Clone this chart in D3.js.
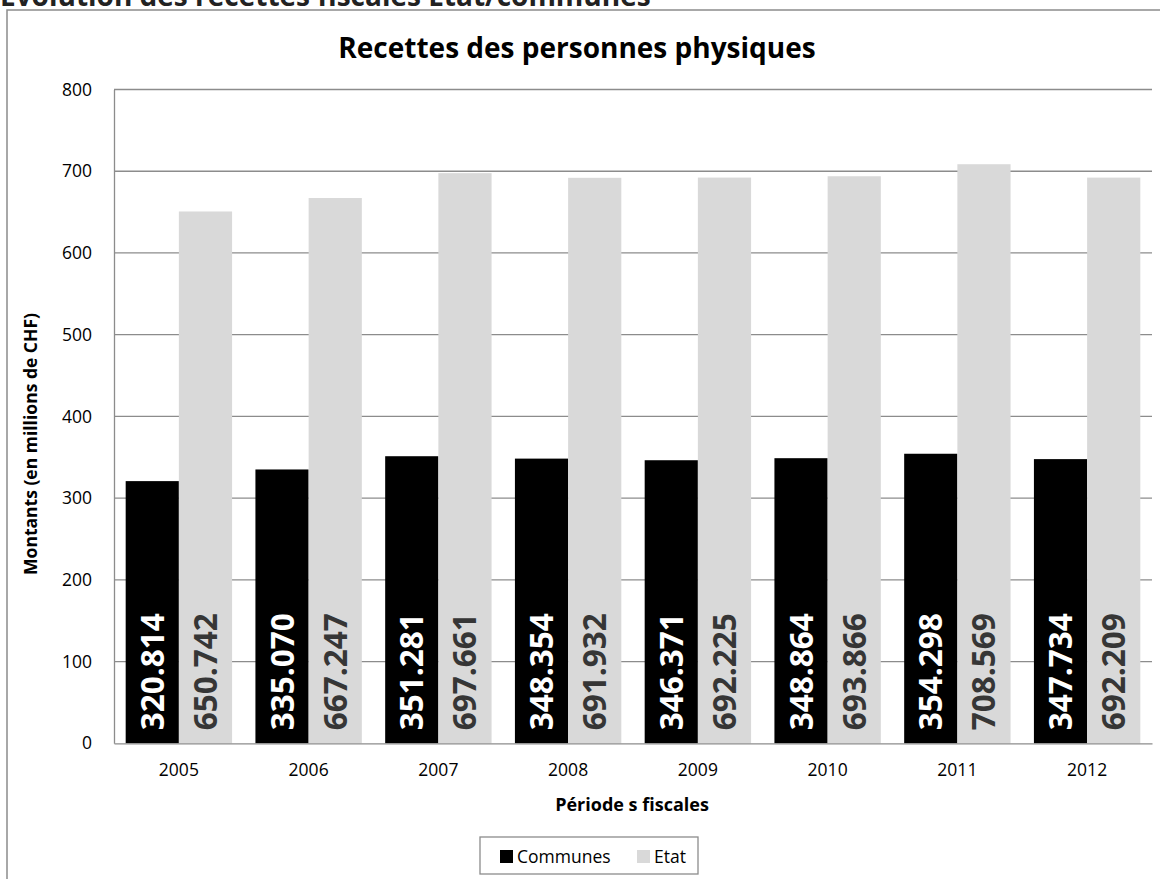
<!DOCTYPE html>
<html><head><meta charset="utf-8">
<script src="https://cdn.jsdelivr.net/npm/d3@7"></script>
<style>body{margin:0;background:#fff;}svg{display:block;font-family:"Open Sans",sans-serif;}</style>
</head><body><svg id="c" width="1160" height="879"></svg>
<script>
const years = ["2005","2006","2007","2008","2009","2010","2011","2012"];
const communes = [320.814,335.070,351.281,348.354,346.371,348.864,354.298,347.734];
const etat = [650.742,667.247,697.661,691.932,692.225,693.866,708.569,692.209];
const seriesNames = ["Communes","Etat"];
const seriesColors = ["#000000","#d9d9d9"];
const labelColors = ["#ffffff","#363636"];
const yTicks = [0,100,200,300,400,500,600,700,800];

const FONT = "'Open Sans',sans-serif";
const svg = d3.select("#c");
const m = {l:114, r:1152, t:89.5, b:743.3};

// outer frame
svg.append("rect").attr("x",7).attr("y",10).attr("width",1200).attr("height",900)
  .attr("fill","none").attr("stroke","#8c8c8c").attr("stroke-width",1.5);

// header (cut off at the top edge, as in the reference)
svg.append("text").attr("x",0).attr("y",6).attr("font-size",28).attr("font-weight","bold")
  .attr("fill","#222").text("Evolution des recettes fiscales Etat/communes");

// title
svg.append("text").attr("x",577).attr("y",58).attr("text-anchor","middle")
  .attr("font-size",28).attr("font-weight","bold").attr("fill","#000").text("Recettes des personnes physiques");

const x0 = d3.scaleBand().domain(years).range([m.l,m.r]).paddingInner(0.18).paddingOuter(0.09);
const x1 = d3.scaleBand().domain(seriesNames).range([0,x0.bandwidth()]);
const y = d3.scaleLinear().domain([0,800]).range([m.b,m.t]);

// gridlines
svg.append("g").selectAll("line").data(yTicks.filter(d=>d>0)).join("line")
  .attr("x1",m.l).attr("x2",m.r).attr("y1",d=>y(d)).attr("y2",d=>y(d))
  .attr("stroke","#8c8c8c").attr("stroke-width",1.3);

// y axis
const ya = svg.append("g").attr("transform",`translate(${m.l},0)`)
  .call(d3.axisLeft(y).tickValues(yTicks).tickSize(0).tickPadding(22));
ya.select(".domain").attr("stroke","#8c8c8c").attr("stroke-width",1.3);
ya.selectAll("text").attr("font-size",17.5).attr("fill","#000").attr("font-family",FONT);

const data = years.map((yr,i)=>({yr, vals:[communes[i],etat[i]]}));
const groups = svg.append("g").selectAll("g").data(data).join("g")
  .attr("transform",d=>`translate(${x0(d.yr)},0)`);
groups.selectAll("rect").data(d=>d.vals.map((v,j)=>({v,j}))).join("rect")
  .attr("x",d=>x1(seriesNames[d.j])).attr("width",x1.bandwidth())
  .attr("y",d=>y(d.v)).attr("height",d=>y(0)-y(d.v))
  .attr("fill",d=>seriesColors[d.j]);
groups.selectAll("text").data(d=>d.vals.map((v,j)=>({v,j}))).join("text")
  .attr("transform",d=>`translate(${x1(seriesNames[d.j])+x1.bandwidth()/2+11.5},${y(0)-13}) rotate(-90)`)
  .attr("font-size",31.5).attr("font-weight","bold").attr("fill",d=>labelColors[d.j])
  .text(d=>d3.format(".3f")(d.v));

// x axis
const xa = svg.append("g").attr("transform",`translate(0,${m.b})`)
  .call(d3.axisBottom(x0).tickSize(0).tickPadding(20));
xa.select(".domain").attr("stroke","#8c8c8c").attr("stroke-width",1.3);
xa.selectAll("text").attr("font-size",17.5).attr("fill","#000").attr("font-family",FONT);

// axis titles
svg.append("text").attr("transform","translate(37,444) rotate(-90)").attr("text-anchor","middle")
  .attr("font-size",17.5).attr("font-weight","bold").text("Montants (en millions de CHF)");
svg.append("text").attr("x",632).attr("y",811).attr("text-anchor","middle")
  .attr("font-size",18).attr("font-weight","bold").text("Période s fiscales");

// legend
const lg = svg.append("g");
lg.append("rect").attr("x",480).attr("y",837).attr("width",218).attr("height",37)
  .attr("fill","#fff").attr("stroke","#8c8c8c").attr("stroke-width",1.3);
const lx = [500,637];
seriesNames.forEach((s,i)=>{
  lg.append("rect").attr("x",lx[i]).attr("y",850).attr("width",13).attr("height",13).attr("fill",seriesColors[i]);
  lg.append("text").attr("x",lx[i]+17).attr("y",863).attr("font-size",17.5).attr("fill","#000").text(s);
});
</script></body></html>
